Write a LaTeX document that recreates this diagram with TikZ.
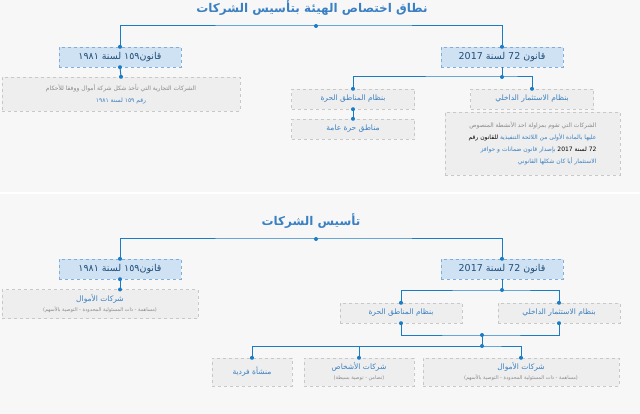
\documentclass[tikz,border=0pt]{standalone}
\usepackage{fontspec}
\TeXXeTstate=1
\newfontfamily\arabicfont[Script=Arabic]{DejaVu Sans}
\newcommand{\AR}[1]{{\arabicfont\beginR #1\endR}}
\newcommand{\LT}[1]{\beginL #1\endL{}}
\definecolor{bg}{HTML}{F7F7F7}
\definecolor{lineblue}{HTML}{1A7CC4}
\definecolor{txtblue}{HTML}{3A80C2}
\definecolor{hdfill}{HTML}{CFE2F3}
\definecolor{hdline}{HTML}{7FAEDB}
\definecolor{gyfill}{HTML}{EEEEEE}
\definecolor{gyline}{HTML}{C8C8C8}
\definecolor{gytxt}{HTML}{8A8A8A}
\definecolor{hdtxt}{HTML}{1F4E79}
\begin{document}
\begin{tikzpicture}[x=1pt,y=-1pt,
  hd/.style={draw=hdline,dashed,fill=hdfill,text=hdtxt,font=\fontsize{9.5}{11}\selectfont,minimum width=122pt,minimum height=20pt,inner sep=1pt},
  gy/.style={draw=gyline,dashed,fill=gyfill,text=txtblue,font=\fontsize{7.5}{10}\selectfont,minimum height=20pt,inner sep=1pt,align=center},
  ttl/.style={text=txtblue,font=\fontsize{12}{14}\selectfont\bfseries},
  ln/.style={draw=lineblue,line width=1pt},
  dot/.style={circle,fill=lineblue,inner sep=0pt,minimum size=4pt}]
\fill[bg] (0,0) rectangle (640,414);
\useasboundingbox (0,0) rectangle (640,414);
\draw[white,line width=1.5pt] (0,193) -- (640,193);
% ===== top =====
\node[ttl] (t1) at (312,8) {\AR{نطاق اختصاص الهيئة بتأسيس الشركات}};
\node[hd] (a1) at (120,57) {\AR{قانون\LT{١٥٩} لسنة \LT{١٩٨١}}};
\node[hd] (a2) at (502,57) {\AR{قانون \LT{72} لسنة \LT{2017}}};
\node[gy,minimum width=238pt,minimum height=34pt,text=gytxt,font=\fontsize{6}{12}\selectfont] (a3) at (121,94)
  {\AR{الشركات التجارية التي تأخذ شكل شركة أموال ووفقا للأحكام}\\ \textcolor{txtblue}{\AR{رقم \LT{١٥٩} لسنة \LT{١٩٨١}}}};
\node[gy,minimum width=123pt] (a4) at (532,99) {\AR{بنظام الاستثمار الداخلي}};
\node[gy,minimum width=123pt] (a5) at (353,99) {\AR{بنظام المناطق الحرة}};
\node[gy,minimum width=123pt] (a6) at (353,129) {\AR{مناطق حرة عامة}};
\node[gy,minimum width=175pt,minimum height=63pt,text=gytxt,align=right,font=\fontsize{6}{12}\selectfont] (a7) at (532.5,143.5)
  {\AR{الشركات التي تقوم بمزاولة احد الأنشطة المنصوص}\\
   \AR{عليها بالمادة الأولى من اللائحة التنفيذية \textcolor{txtblue}{للقانون رقم}}\\
   \AR{\textcolor{txtblue}{\LT{72} لسنة \LT{2017}} بإصدار قانون ضمانات و حوافز}\\
   \AR{الاستثمار أيا كان شكلها القانوني}};
\coordinate (j1) at (316,26);
\coordinate (j2) at (502,77);
\draw[ln] (a1.north) |- (j1) -| (a2.north);
\draw[ln] (a1.south) -- (a3.north);
\draw[ln] (a2.south) -- (j2);
\draw[ln] (a4.north) |- (j2) -| (a5.north);
\draw[ln] (a5.south) -- (a6.north);
\foreach \p in {j1,j2,a1.north,a2.north,a1.south,a3.north,a4.north,a5.north,a5.south,a6.north} \node[dot] at (\p) {};
% ===== bottom =====
\node[ttl] (t2) at (311,221) {\AR{تأسيس الشركات}};
\node[hd] (b1) at (120,269) {\AR{قانون\LT{١٥٩} لسنة \LT{١٩٨١}}};
\node[hd] (b2) at (502,269) {\AR{قانون \LT{72} لسنة \LT{2017}}};
\node[gy,minimum width=196pt,minimum height=29pt] (b3) at (100,304)
  {\AR{شركات الأموال}\\ \textcolor{gytxt}{\fontsize{5}{7}\selectfont\AR{(مساهمة - ذات المسئولية المحدودة - التوصية بالأسهم)}}};
\coordinate (b3t) at (120,289.5);
\node[gy,minimum width=122pt] (b4) at (559,313) {\AR{بنظام الاستثمار الداخلي}};
\node[gy,minimum width=122pt] (b5) at (401,313) {\AR{بنظام المناطق الحرة}};
\node[gy,minimum width=196pt,minimum height=28pt] (b6) at (521,372)
  {\AR{شركات الأموال}\\ \textcolor{gytxt}{\fontsize{5}{7}\selectfont\AR{(مساهمة - ذات المسئولية المحدودة - التوصية بالأسهم)}}};
\node[gy,minimum width=110pt,minimum height=28pt] (b7) at (359,372)
  {\AR{شركات الأشخاص}\\ \textcolor{gytxt}{\fontsize{5}{7}\selectfont\AR{(تضامن - توصية بسيطة)}}};
\node[gy,minimum width=80pt,minimum height=28pt] (b8) at (252,372) {\AR{منشأة فردية}};
\coordinate (k1) at (316,239);
\coordinate (k2) at (502,290);
\coordinate (k3) at (482,335);
\coordinate (k4) at (482,346);
\draw[ln] (b1.north) |- (k1) -| (b2.north);
\draw[ln] (b1.south) -- (b3t);
\draw[ln] (b2.south) -- (k2);
\draw[ln] (b4.north) |- (k2) -| (b5.north);
\draw[ln] (b4.south) |- (k3) -| (b5.south);
\draw[ln] (k3) -- (k4);
\draw[ln] (b6.north) |- (k4) -| (b8.north);
\draw[ln] (k4) -| (b7.north);
\foreach \p in {k1,k2,k3,k4,b1.north,b2.north,b1.south,b3t,b4.north,b5.north,b4.south,b5.south,b6.north,b7.north,b8.north} \node[dot] at (\p) {};
\end{tikzpicture}
\end{document}
